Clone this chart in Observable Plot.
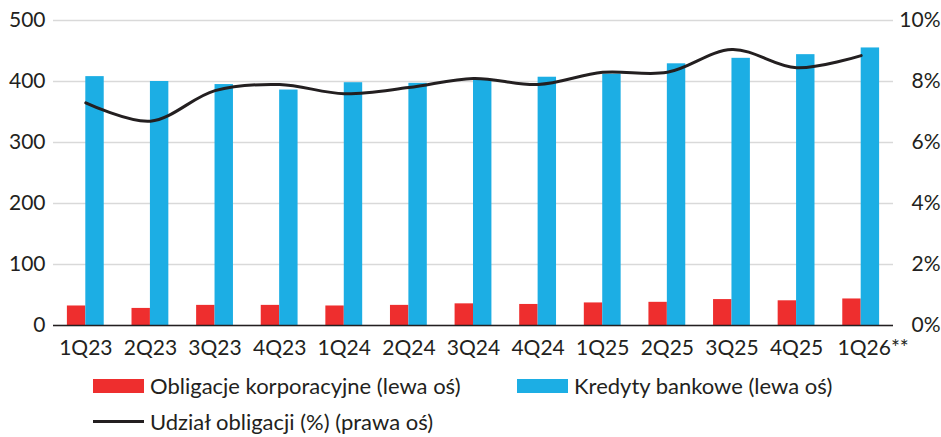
<!DOCTYPE html>
<html>
<head>
<meta charset="utf-8">
<script src="https://cdn.jsdelivr.net/npm/d3@7"></script>
<script src="https://cdn.jsdelivr.net/npm/@observablehq/plot@0.6"></script>
<style>
  html, body { margin: 0; padding: 0; background: #fff; }
  #wrap { position: relative; width: 941px; height: 437px; font-family: Lato, "Open Sans", sans-serif; color: #231f20; }
  .leg { position: absolute; display: flex; align-items: center; font-size: 22px; white-space: nowrap; }
  .sw { width: 51px; height: 14px; margin-right: 6px; }
  .ln { width: 51px; height: 3px; background: #231f20; margin-right: 6px; }
</style>
</head>
<body>
<div id="wrap">
  <div id="chart"></div>
  <div class="leg" style="left:93px; top:372px;"><span class="sw" style="background:#ee2e2e"></span>Obligacje korporacyjne (lewa oś)</div>
  <div class="leg" style="left:517px; top:372px;"><span class="sw" style="background:#1caee4"></span>Kredyty bankowe (lewa oś)</div>
  <div class="leg" style="left:93px; top:408px;"><span class="ln"></span>Udział obligacji (%) (prawa oś)</div>
</div>
<script>
const quarters = ["1Q23","2Q23","3Q23","4Q23","1Q24","2Q24","3Q24","4Q24","1Q25","2Q25","3Q25","4Q25","1Q26**"];
const bonds = [32, 28, 33, 33, 32, 33, 35.5, 34.5, 37, 38, 42.5, 40.5, 43.5];
const loans = [408, 400, 395, 386, 398, 397, 403, 407, 412, 429, 438, 444, 455];
const share = [7.3, 6.7, 7.7, 7.9, 7.6, 7.8, 8.1, 7.9, 8.3, 8.3, 9.05, 8.45, 8.85];
const leftTicks = [0, 100, 200, 300, 400, 500];
const rightTicks = [0, 2, 4, 6, 8, 10];

const RED = "#ee2e2e", BLUE = "#1caee4", INK = "#231f20";
const scaleFactor = 50; // 10% on right axis == 500 on left axis

const rows = quarters.map((q, i) => ({q, bonds: bonds[i], loans: loans[i], share: share[i] * scaleFactor}));

const W = 941, H = 365, ML = 53, MR = 48;
const step = (W - ML - MR) / quarters.length;
const pad = 0.43;
const bw = step * (1 - pad);

const chart = Plot.plot({
  width: W,
  height: H,
  marginTop: 20,
  marginBottom: 40,
  marginLeft: ML,
  marginRight: MR,
  style: {fontFamily: "Lato, 'Open Sans', sans-serif", fontSize: "21px", color: INK, background: "#fff"},
  x: {domain: quarters, paddingInner: pad, paddingOuter: pad / 2, round: false, label: null},
  y: {domain: [0, 500], label: null},
  marks: [
    Plot.gridY(leftTicks, {stroke: "#d9d9d9", strokeOpacity: 1, strokeWidth: 1.5}),
    Plot.barY(rows, {x: "q", y: "bonds", fill: RED, insetRight: bw / 2}),
    Plot.barY(rows, {x: "q", y: "loans", fill: BLUE, insetLeft: bw / 2}),
    Plot.ruleY([0], {stroke: INK, strokeWidth: 1.5}),
    Plot.line(rows, {x: "q", y: "share", stroke: INK, strokeWidth: 3, curve: "catmull-rom"}),
    Plot.axisY({ticks: leftTicks, tickSize: 0, tickPadding: 8, fontSize: 21, label: null, fill: INK}),
    Plot.axisY({anchor: "right", ticks: rightTicks.map(d => d * scaleFactor), tickFormat: d => (d / scaleFactor) + "%", tickSize: 0, tickPadding: 47, textAnchor: "end", fontSize: 21, label: null, fill: INK}),
    Plot.axisX({ticks: quarters.slice(0, -1), tickSize: 0, tickPadding: 15, fontSize: 21, label: null, fill: INK}),
    Plot.axisX({ticks: quarters.slice(-1), tickSize: 0, tickPadding: 15, fontSize: 21, dx: 12, label: null, fill: INK})
  ]
});
document.getElementById("chart").appendChild(chart);
</script>
</body>
</html>
